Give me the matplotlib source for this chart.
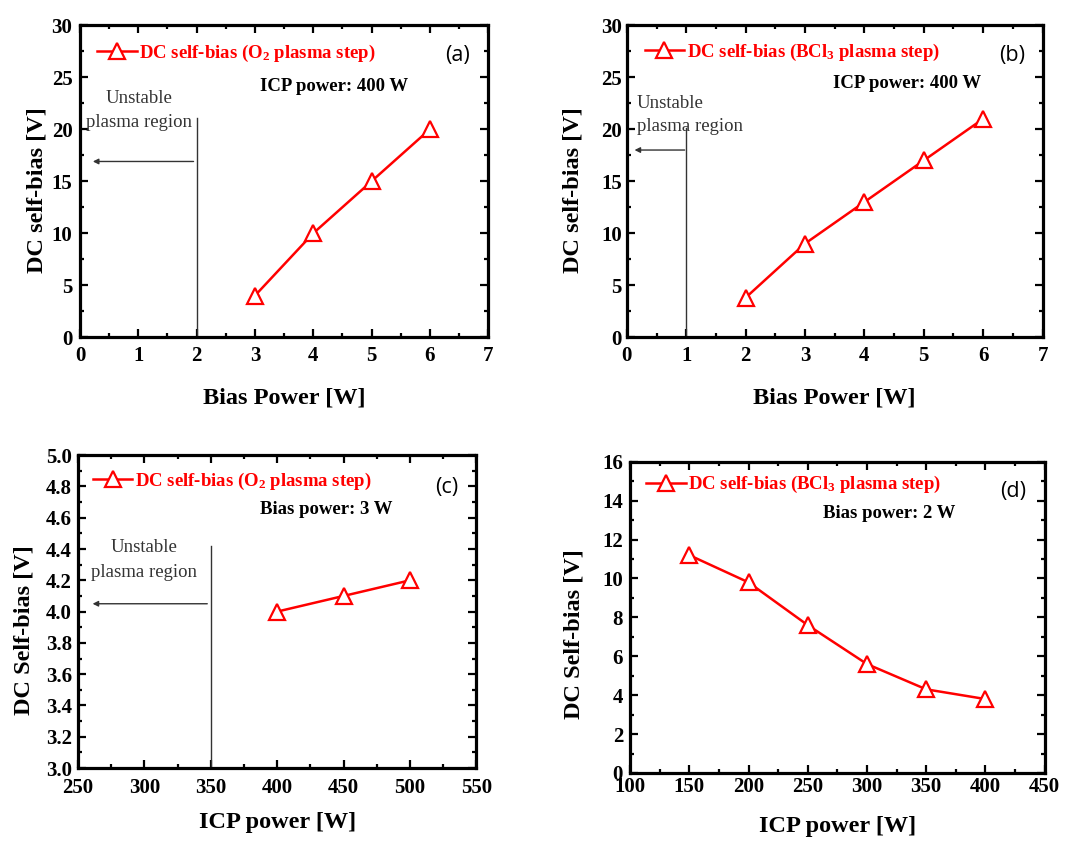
import matplotlib
matplotlib.use("Agg")
import matplotlib.pyplot as plt
from matplotlib.ticker import MultipleLocator

# data
bias_a = [3, 4, 5, 6]
dc_a = [4.0, 10.0, 15.0, 20.0]

bias_b = [2, 3, 4, 5, 6]
dc_b = [3.8, 9.0, 13.0, 17.0, 21.0]

icp_c = [400, 450, 500]
dc_c = [4.0, 4.1, 4.2]

icp_d = [150, 200, 250, 300, 350, 400]
dc_d = [11.2, 9.8, 7.6, 5.6, 4.3, 3.8]

legend_a = r"DC self-bias (O$_2$ plasma step)"
legend_b = r"DC self-bias (BCl$_3$ plasma step)"

plt.rcParams["font.family"] = "serif"
plt.rcParams["font.serif"] = ["Liberation Serif", "DejaVu Serif"]
plt.rcParams["font.weight"] = "bold"
plt.rcParams["mathtext.fontset"] = "custom"
plt.rcParams["mathtext.rm"] = "Liberation Serif:bold"
plt.rcParams["mathtext.it"] = "Liberation Serif:italic:bold"
plt.rcParams["mathtext.bf"] = "Liberation Serif:bold"

fig = plt.figure(figsize=(10.77, 8.41), dpi=100)

ax_a = fig.add_axes([0.0743, 0.599, 0.379, 0.371])
ax_b = fig.add_axes([0.582, 0.599, 0.386, 0.371])
ax_c = fig.add_axes([0.0724, 0.0868, 0.370, 0.372])
ax_d = fig.add_axes([0.585, 0.0809, 0.385, 0.370])


def style_axis(ax, xlim, xmaj, xmin, ylim, ymaj, ymin, xlabel, ylabel,
               ylab_x, ylab_y, xlab_y, xpad, ypad):
    ax.set_xlim(*xlim)
    ax.set_ylim(*ylim)
    ax.xaxis.set_major_locator(MultipleLocator(xmaj))
    ax.xaxis.set_minor_locator(MultipleLocator(xmin))
    ax.yaxis.set_major_locator(MultipleLocator(ymaj))
    ax.yaxis.set_minor_locator(MultipleLocator(ymin))
    ax.tick_params(which="both", direction="in", top=True, right=True,
                   labelsize=15, width=1.6)
    ax.tick_params(which="major", length=5.5)
    ax.tick_params(which="minor", length=3)
    ax.tick_params(axis="x", which="major", pad=xpad)
    ax.tick_params(axis="y", which="major", pad=ypad)
    for sp in ax.spines.values():
        sp.set_linewidth(2.3)
    ax.set_xlabel(xlabel, fontsize=17.5, fontweight="bold")
    ax.set_ylabel(ylabel, fontsize=17.5, fontweight="bold")
    ax.yaxis.set_label_coords(ylab_x, ylab_y)
    ax.xaxis.set_label_coords(0.5, xlab_y)


def add_series(ax, x, y, label, anchor):
    ax.plot(x, y, "-^", color="red", lw=1.8, ms=11, mew=1.6,
            mfc="white", mec="red", label=label)
    leg = ax.legend(loc="center left", bbox_to_anchor=anchor, frameon=False,
                    borderpad=0, borderaxespad=0, handlelength=2.1,
                    handletextpad=0.15,
                    prop={"family": "Liberation Serif", "weight": "bold",
                          "size": 13.5})
    for t in leg.get_texts():
        t.set_color("red")


def panel_tag(ax, tag, xy):
    ax.text(xy[0], xy[1], tag, transform=ax.transAxes, ha="center",
            va="center", fontsize=15.5, fontweight="normal",
            family="Open Sans")


def unstable(ax, xline, ytop, yarrow, xhead, xtext, y1, y2, ha):
    ax.plot([xline, xline], [ax.get_ylim()[0], ytop], color="#333333",
            lw=1.0)
    ax.annotate("", xy=(xhead, yarrow),
                xytext=(xline - 0.03 * (xline - xhead), yarrow),
                arrowprops=dict(arrowstyle="-|>", color="#333333", lw=1.0,
                                mutation_scale=8, shrinkA=0, shrinkB=0))
    ax.text(xtext, y1, "Unstable", ha=ha, va="center", fontsize=13.5,
            fontweight="normal", color="#333333")
    ax.text(xtext, y2, "plasma region", ha=ha, va="center", fontsize=13.5,
            fontweight="normal", color="#333333")


# (a)
style_axis(ax_a, (0, 7), 1, 0.5, (0, 30), 5, 2.5, "Bias Power [W]",
           "DC self-bias [V]", -0.08, 0.47, -0.16, 6, 5.5)
add_series(ax_a, bias_a, dc_a, legend_a, (0.042, 0.91))
panel_tag(ax_a, "(a)", (0.924, 0.904))
ax_a.text(0.44, 0.805, "ICP power: 400 W", transform=ax_a.transAxes,
          ha="left", va="center", fontsize=13.5, fontweight="bold")
unstable(ax_a, 2.0, 21.1, 16.9, 0.22, 1.02, 23.0, 20.6, "center")

# (b)
style_axis(ax_b, (0, 7), 1, 0.5, (0, 30), 5, 2.5, "Bias Power [W]",
           "DC self-bias [V]", -0.103, 0.47, -0.16, 6, 3.6)
add_series(ax_b, bias_b, dc_b, legend_b, (0.043, 0.913))
panel_tag(ax_b, "(b)", (0.928, 0.904))
ax_b.text(0.495, 0.814, "ICP power: 400 W", transform=ax_b.transAxes,
          ha="left", va="center", fontsize=13.5, fontweight="bold")
unstable(ax_b, 1.0, 20.1, 18.0, 0.13, 0.17, 22.5, 20.3, "left")

# (c)
style_axis(ax_c, (250, 550), 50, 25, (3.0, 5.0), 0.2, 0.1, "ICP power [W]",
           "DC Self-bias [V]", -0.110, 0.44, -0.141, 7, 4.3)
add_series(ax_c, icp_c, dc_c, legend_a, (0.038, 0.917))
panel_tag(ax_c, "(c)", (0.925, 0.898))
ax_c.text(0.456, 0.827, "Bias power: 3 W", transform=ax_c.transAxes,
          ha="left", va="center", fontsize=13.5, fontweight="bold")
unstable(ax_c, 350, 4.42, 4.05, 261, 300, 4.41, 4.25, "center")
ax_c.yaxis.set_major_formatter(plt.FormatStrFormatter("%.1f"))

# (d)
style_axis(ax_d, (100, 450), 50, 25, (0, 16), 2, 1, "ICP power [W]",
           "DC Self-bias [V]", -0.111, 0.445, -0.137, 3, 5)
add_series(ax_d, icp_d, dc_d, legend_b, (0.039, 0.926))
panel_tag(ax_d, "(d)", (0.923, 0.904))
ax_d.text(0.465, 0.833, "Bias power: 2 W", transform=ax_d.transAxes,
          ha="left", va="center", fontsize=13.5, fontweight="bold")

fig.savefig("out.png", dpi=100)
